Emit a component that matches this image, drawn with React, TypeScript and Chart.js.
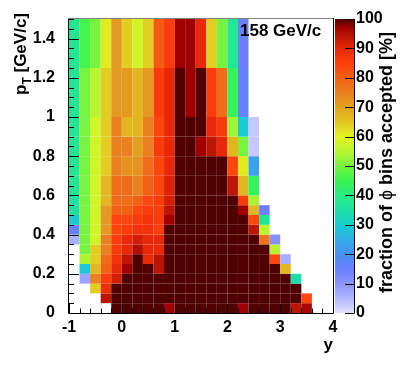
import React, { useEffect, useRef } from "react";
import { Chart, registerables } from "chart.js";

Chart.register(...registerables);

// ---- data ----
// rapidity (y) bin edges and pT bin edges
const rapidityEdges = [-1, -0.8, -0.6, -0.4, -0.2, 0, 0.2, 0.4, 0.6, 0.8, 1, 1.2, 1.4, 1.6, 1.8, 2, 2.2, 2.4, 2.6, 2.8, 3, 3.2, 3.4, 3.6, 3.8, 4];
const ptEdges = [0, 0.05, 0.1, 0.15, 0.2, 0.25, 0.3, 0.35, 0.4, 0.45, 0.5, 0.55, 0.6, 0.7, 0.8, 0.9, 1.0, 1.25, 1.5];

const _ = null;
// fraction of phi bins accepted [%], one array per pT bin (bottom to top), 25 rapidity bins each
const pt000 = [_, _, _, _, 100, 100, 100, 100, 100, 97, 100, 100, 100, 100, 100, 100, 97, 100, 100, 100, 100, 94, 96, _, _];
const pt005 = [_, _, _, 94, 100, 100, 100, 100, 100, 100, 100, 100, 100, 100, 100, 100, 100, 100, 100, 100, 100, 100, 84, _, _];
const pt010 = [_, _, 64, 89, 100, 100, 100, 100, 100, 100, 100, 100, 100, 100, 100, 100, 100, 100, 100, 100, 100, 100, _, _, _];
const pt015 = [_, 8, 75, 86, 92, 100, 100, 100, 100, 100, 100, 100, 100, 100, 100, 100, 100, 100, 100, 100, 100, 34, _, _, _];
const pt020 = [_, 29, 67, 80, 90, 97, 100, 100, 94, 100, 100, 100, 100, 100, 100, 100, 100, 100, 100, 100, 67, _, _, _, _];
const pt025 = [_, 54, 64, 78, 88, 94, 100, 90, 94, 100, 100, 100, 100, 100, 100, 100, 100, 100, 100, 84, 6, _, _, _, _];
const pt030 = [_, 50, 64, 75, 86, 90, 95, 90, 90, 100, 100, 100, 100, 100, 100, 100, 100, 100, 100, 55, _, _, _, _, _];
const pt035 = [6, 50, 58, 75, 86, 90, 92, 90, 90, 100, 100, 100, 100, 100, 100, 100, 100, 100, 77, 11, _, _, _, _, _];
const pt040 = [15, 50, 58, 71, 84, 86, 88, 88, 86, 100, 100, 100, 100, 100, 100, 100, 100, 94, 55, _, _, _, _, _, _];
const pt045 = [29, 50, 58, 71, 84, 84, 86, 88, 86, 97, 100, 100, 100, 100, 100, 100, 100, 84, 37, _, _, _, _, _, _];
const pt050 = [35, 50, 58, 71, 80, 80, 84, 86, 86, 94, 100, 100, 100, 100, 100, 100, 97, 67, 15, _, _, _, _, _, _];
const pt055 = [35, 50, 58, 67, 78, 78, 80, 84, 86, 92, 100, 100, 100, 100, 100, 100, 86, 54, _, _, _, _, _, _, _];
const pt060 = [37, 50, 58, 67, 78, 78, 75, 80, 84, 91, 100, 100, 100, 100, 100, 94, 67, 44, _, _, _, _, _, _, _];
const pt070 = [37, 50, 58, 64, 75, 72, 72, 78, 84, 90, 100, 100, 100, 100, 100, 84, 61, 23, _, _, _, _, _, _, _];
const pt080 = [37, 50, 58, 64, 75, 75, 70, 75, 86, 90, 100, 100, 97, 94, 90, 67, 50, 3, _, _, _, _, _, _, _];
const pt090 = [37, 50, 58, 64, 75, 67, 67, 75, 84, 90, 100, 100, 100, 90, 86, 53, 29, 3, _, _, _, _, _, _, _];
const pt100 = [37, 50, 55, 64, 71, 71, 67, 71, 86, 90, 100, 97, 100, 86, 78, 44, 16, _, _, _, _, _, _, _, _];
const pt125 = [37, 46, 50, 61, 71, 64, 58, 64, 81, 86, 97, 97, 90, 64, 50, 37, 15, _, _, _, _, _, _, _, _];

const fractionRows = [pt000, pt005, pt010, pt015, pt020, pt025, pt030, pt035, pt040, pt045, pt050, pt055, pt060, pt070, pt080, pt090, pt100, pt125];

const xTickValues = [-1, 0, 1, 2, 3, 4];
const yTickValues = [0, 0.2, 0.4, 0.6, 0.8, 1, 1.2, 1.4];
const zTickValues = [0, 10, 20, 30, 40, 50, 60, 70, 80, 90, 100];

const energyLabel = "158 GeV/c";
const xTitle = "y";
const zTitleParts = ["fraction of ", "\u03D5", " bins accepted [%]"];

// ---- style ----
const FONT = "'Liberation Sans', Arial, Helvetica, sans-serif";
const paletteStops: [number, number[]][] = [
  [0, [226, 226, 255]],
  [5, [176, 182, 255]],
  [10, [138, 148, 255]],
  [15, [108, 128, 255]],
  [20, [72, 144, 240]],
  [25, [48, 172, 232]],
  [30, [24, 206, 206]],
  [35, [32, 224, 164]],
  [40, [40, 236, 128]],
  [45, [56, 244, 80]],
  [50, [120, 244, 64]],
  [55, [184, 244, 48]],
  [60, [226, 244, 32]],
  [65, [226, 196, 32]],
  [70, [226, 160, 32]],
  [75, [234, 128, 32]],
  [80, [242, 96, 20]],
  [85, [255, 64, 12]],
  [90, [232, 40, 8]],
  [95, [176, 16, 4]],
  [97, [160, 0, 0]],
  [100, [80, 0, 0]],
];

function colorFor(v: number): string {
  if (v <= paletteStops[0][0]) return `rgb(${paletteStops[0][1].join(",")})`;
  for (let k = 1; k < paletteStops.length; k++) {
    const [v1, c1] = paletteStops[k];
    if (v <= v1) {
      const [v0, c0] = paletteStops[k - 1];
      const t = (v - v0) / (v1 - v0);
      const c = c0.map((a, j) => Math.round(a + (c1[j] - a) * t));
      return `rgb(${c.join(",")})`;
    }
  }
  return `rgb(${paletteStops[paletteStops.length - 1][1].join(",")})`;
}

const heatmapPlugin = {
  id: "heatmap",
  beforeDatasetsDraw(chart: any) {
    const { ctx, scales } = chart;
    const xs = scales.x;
    const ys = scales.y;
    ctx.save();
    fractionRows.forEach((row, r) => {
      const yb = ys.getPixelForValue(ptEdges[r]);
      const yt = ys.getPixelForValue(ptEdges[r + 1]);
      row.forEach((v, i) => {
        if (v === null || v === undefined) return;
        const xl = xs.getPixelForValue(rapidityEdges[i]);
        const xr = xs.getPixelForValue(rapidityEdges[i + 1]);
        ctx.fillStyle = colorFor(v);
        ctx.fillRect(xl, yt, xr - xl, yb - yt);
      });
    });
    ctx.restore();
  },
  afterDraw(chart: any) {
    const { ctx, chartArea: ca, scales } = chart;
    const xs = scales.x;
    const ys = scales.y;
    const zs = scales.z;
    ctx.save();

    // frame
    ctx.lineWidth = 1;
    ctx.strokeStyle = "#808080";
    ctx.beginPath();
    ctx.moveTo(ca.left - 1, ca.top - 0.5);
    ctx.lineTo(ca.right + 1, ca.top - 0.5);
    ctx.stroke();
    ctx.strokeStyle = "#000";
    ctx.beginPath();
    ctx.moveTo(ca.left - 0.5, ca.top);
    ctx.lineTo(ca.left - 0.5, ca.bottom + 0.5);
    ctx.lineTo(ca.right + 0.5, ca.bottom + 0.5);
    ctx.lineTo(ca.right + 0.5, ca.top - 1);
    ctx.stroke();

    // x ticks (major each unit, minor each 0.2) pointing into the frame
    ctx.beginPath();
    for (let k = 0; k < xTickValues.length; k++) {
      const v = xTickValues[k];
      const px = Math.round(xs.getPixelForValue(v)) + 0.5;
      ctx.moveTo(px, ca.bottom);
      ctx.lineTo(px, ca.bottom - 9);
      if (k < xTickValues.length - 1) {
        const step = (xTickValues[k + 1] - v) / 5;
        for (let m = 1; m < 5; m++) {
          const pm = Math.round(xs.getPixelForValue(v + m * step)) + 0.5;
          ctx.moveTo(pm, ca.bottom);
          ctx.lineTo(pm, ca.bottom - 4.5);
        }
      }
    }
    // y ticks (major 0.2, minor 0.05)
    for (let k = 0; k < yTickValues.length; k++) {
      const v = yTickValues[k];
      const py = Math.round(ys.getPixelForValue(v)) + 0.5;
      ctx.moveTo(ca.left, py);
      ctx.lineTo(ca.left + 10, py);
      const next = k < yTickValues.length - 1 ? yTickValues[k + 1] : 1.6;
      const step = (next - v) / 4;
      for (let m = 1; m < 4; m++) {
        const vm = v + m * step;
        if (vm > 1.5 + 1e-9) break;
        const pm = Math.round(ys.getPixelForValue(vm)) + 0.5;
        ctx.moveTo(ca.left, pm);
        ctx.lineTo(ca.left + 5, pm);
      }
    }
    ctx.stroke();

    // colour bar
    const cbL = zs.left + 2;
    const cbR = zs.left + 21;
    const top = Math.round(zs.top);
    const bot = Math.round(zs.bottom);
    for (let py = top; py < bot; py++) {
      const v = zs.getValueForPixel(py + 0.5);
      ctx.fillStyle = colorFor(v);
      ctx.fillRect(cbL, py, cbR - cbL, 1);
    }
    ctx.strokeStyle = "#000";
    ctx.beginPath();
    ctx.moveTo(cbR + 0.5, top);
    ctx.lineTo(cbR + 0.5, bot + 0.5);
    zTickValues.forEach((v) => {
      const py = Math.round(zs.getPixelForValue(v)) + 0.5;
      ctx.moveTo(cbR, py);
      ctx.lineTo(cbR - 9, py);
    });
    ctx.stroke();

    ctx.fillStyle = "#000";
    // energy label
    ctx.font = `bold 17px ${FONT}`;
    ctx.textAlign = "left";
    ctx.textBaseline = "alphabetic";
    ctx.fillText(energyLabel, 240, 36);

    // x title
    ctx.font = `bold 17px ${FONT}`;
    ctx.textAlign = "right";
    ctx.fillText(xTitle, ca.right, 350);

    // y title: p_T [GeV/c], rotated, ending at top
    {
      const big = `bold 17px ${FONT}`;
      const small = `bold 12px ${FONT}`;
      ctx.font = big;
      const wp = ctx.measureText("p").width;
      const wr = ctx.measureText(" [GeV/c]").width;
      ctx.font = small;
      const wt = ctx.measureText("T").width;
      const total = wp + wt + wr;
      ctx.save();
      ctx.translate(26, 13 + total);
      ctx.rotate(-Math.PI / 2);
      ctx.textAlign = "left";
      ctx.font = big;
      ctx.fillText("p", 0, 0);
      ctx.font = small;
      ctx.fillText("T", wp, 5);
      ctx.font = big;
      ctx.fillText(" [GeV/c]", wp + wt, 0);
      ctx.restore();
    }

    // z title, rotated, ending near top
    {
      const fonts = [`bold 18px ${FONT}`, `18px ${FONT}`, `bold 18px ${FONT}`];
      const widths = zTitleParts.map((s, k) => {
        ctx.font = fonts[k];
        return ctx.measureText(s).width;
      });
      const total = widths.reduce((a, b) => a + b, 0);
      ctx.save();
      ctx.translate(392, 32 + total);
      ctx.rotate(-Math.PI / 2);
      ctx.textAlign = "left";
      let u = 0;
      zTitleParts.forEach((s, k) => {
        ctx.font = fonts[k];
        ctx.fillText(s, u, 0);
        u += widths[k];
      });
      ctx.restore();
    }
    ctx.restore();
  },
};

export default function App() {
  const ref = useRef<HTMLCanvasElement | null>(null);
  useEffect(() => {
    if (!ref.current) return;
    const tickFont = { family: FONT, size: 16, weight: "bold" as const };
    const chart = new Chart(ref.current, {
      type: "scatter",
      data: { datasets: [] },
      options: {
        responsive: false,
        animation: false,
        layout: { padding: { top: 19, left: 0, right: 0, bottom: 0 } },
        plugins: { legend: { display: false }, tooltip: { enabled: false } },
        scales: {
          x: {
            type: "linear",
            position: "bottom",
            min: -1,
            max: 4,
            afterBuildTicks: (s: any) => {
              s.ticks = xTickValues.map((v) => ({ value: v }));
            },
            afterFit: (s: any) => {
              s.height = 56;
            },
            grid: { display: false, drawTicks: true, tickLength: 3 },
            border: { display: false },
            ticks: { font: tickFont, color: "#000", padding: 2, maxRotation: 0, autoSkip: false, callback: (v: any) => String(v) },
          },
          y: {
            type: "linear",
            position: "left",
            min: 0,
            max: 1.5,
            afterBuildTicks: (s: any) => {
              s.ticks = yTickValues.map((v) => ({ value: v }));
            },
            afterFit: (s: any) => {
              s.width = 69;
            },
            grid: { display: false, drawTicks: true, tickLength: 12 },
            border: { display: false },
            ticks: { font: tickFont, color: "#000", padding: 2, autoSkip: false, callback: (v: any) => String(v) },
          },
          z: {
            type: "linear",
            position: "right",
            min: 0,
            max: 100,
            afterBuildTicks: (s: any) => {
              s.ticks = zTickValues.map((v) => ({ value: v }));
            },
            afterFit: (s: any) => {
              s.width = 74;
            },
            grid: { display: false, drawTicks: true, tickLength: 21, drawOnChartArea: false },
            border: { display: false },
            ticks: { font: tickFont, color: "#000", padding: 2, autoSkip: false, callback: (v: any) => String(v) },
          },
        },
      },
      plugins: [heatmapPlugin],
    } as any);
    return () => chart.destroy();
  }, []);
  return (
    <div style={{ position: "fixed", left: 0, top: 0, width: 407, height: 369, background: "#fff" }}>
      <canvas ref={ref} width={407} height={369} style={{ display: "block" }} />
    </div>
  );
}
